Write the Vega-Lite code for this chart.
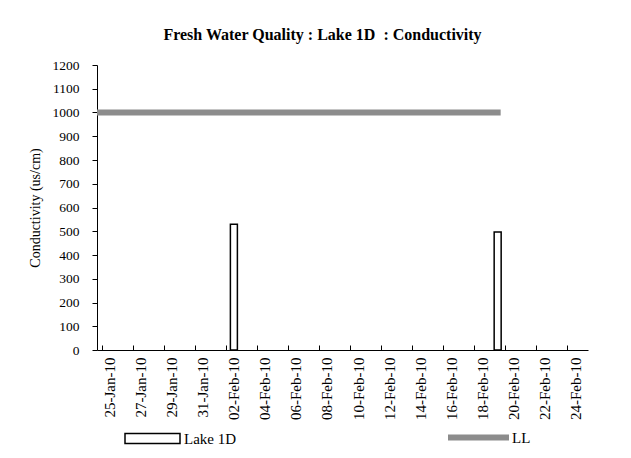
{
  "$schema": "https://vega.github.io/schema/vega-lite/v6.json",
  "width": 491,
  "height": 285,
  "autosize": {"type": "none"},
  "padding": {"left": 97, "top": 65, "right": 43, "bottom": 108},
  "background": "white",
  "title": {
    "text": "Fresh Water Quality : Lake 1D\u00a0 : Conductivity",
    "font": "Liberation Serif",
    "fontSize": 16,
    "fontWeight": "bold",
    "color": "black",
    "anchor": "middle",
    "dx": -20,
    "offset": 15
  },
  "config": {
    "view": {"stroke": null},
    "font": "Liberation Serif",
    "axis": {
      "grid": false,
      "domainColor": "black",
      "tickColor": "black",
      "labelColor": "black",
      "titleColor": "black",
      "labelFont": "Liberation Serif",
      "titleFont": "Liberation Serif",
      "labelFontSize": 13.5,
      "titleFontSize": 14,
      "titleFontWeight": "normal",
      "labelOverlap": false
    },
    "legend": {
      "labelFont": "Liberation Serif",
      "labelFontSize": 15,
      "labelColor": "black"
    }
  },
  "datasets": {
    "lake": [
      {"date": "2010-02-02", "series": "Lake 1D", "value": 530},
      {"date": "2010-02-19", "series": "Lake 1D", "value": 497}
    ],
    "ll": [
      {"date": "2010-01-24", "series": "LL", "value": 1000},
      {"date": "2010-02-19", "series": "LL", "value": 1000}
    ]
  },
  "layer": [
    {
      "data": {"name": "lake"},
      "mark": {"type": "bar", "size": 7, "stroke": "black", "strokeWidth": 1.5},
      "encoding": {
        "x": {
          "field": "date",
          "type": "temporal",
          "scale": {
            "type": "utc",
            "domain": [
              {"year": 2010, "month": 1, "date": 24, "hours": 12, "utc": true},
              {"year": 2010, "month": 2, "date": 24, "hours": 12, "utc": true}
            ]
          },
          "axis": {
            "title": null,
            "format": "%d-%b-%y",
            "labelAngle": -90,
            "labelFontSize": 15,
            "labelOverlap": false,
            "tickCount": 40,
            "tickSize": -5,
            "tickOffset": -7.919,
            "labelOffset": 7.919,
            "labelPadding": 12,
            "values": [
              {"year": 2010, "month": 1, "date": 25, "utc": true},
              {"year": 2010, "month": 1, "date": 27, "utc": true},
              {"year": 2010, "month": 1, "date": 29, "utc": true},
              {"year": 2010, "month": 1, "date": 31, "utc": true},
              {"year": 2010, "month": 2, "date": 2, "utc": true},
              {"year": 2010, "month": 2, "date": 4, "utc": true},
              {"year": 2010, "month": 2, "date": 6, "utc": true},
              {"year": 2010, "month": 2, "date": 8, "utc": true},
              {"year": 2010, "month": 2, "date": 10, "utc": true},
              {"year": 2010, "month": 2, "date": 12, "utc": true},
              {"year": 2010, "month": 2, "date": 14, "utc": true},
              {"year": 2010, "month": 2, "date": 16, "utc": true},
              {"year": 2010, "month": 2, "date": 18, "utc": true},
              {"year": 2010, "month": 2, "date": 20, "utc": true},
              {"year": 2010, "month": 2, "date": 22, "utc": true},
              {"year": 2010, "month": 2, "date": 24, "utc": true}
            ]
          }
        },
        "y": {
          "field": "value",
          "type": "quantitative",
          "scale": {"domain": [0, 1200]},
          "axis": {
            "title": "Conductivity (us/cm)",
            "format": "d",
            "labelOverlap": false,
            "tickCount": 30,
            "values": [0, 100, 200, 300, 400, 500, 600, 700, 800, 900, 1000, 1100, 1200],
            "tickSize": 5,
            "labelPadding": 13,
            "titlePadding": 10
          }
        },
        "fill": {
          "field": "series",
          "type": "nominal",
          "scale": {"range": ["white"]},
          "legend": {
            "title": null,
            "orient": "none",
            "legendX": 27,
            "legendY": 345,
            "padding": 0,
            "symbolType": "M-1,-0.18L1,-0.18L1,0.18L-1,0.18Z",
            "symbolSize": 3025,
            "symbolStrokeColor": "black",
            "symbolStrokeWidth": 1.5,
            "symbolFillColor": "white",
            "labelOffset": 3
          }
        }
      }
    },
    {
      "data": {"name": "ll"},
      "mark": {"type": "line", "strokeWidth": 6, "strokeCap": "square", "clip": true},
      "encoding": {
        "x": {"field": "date", "type": "temporal"},
        "y": {"field": "value", "type": "quantitative"},
        "stroke": {
          "field": "series",
          "type": "nominal",
          "scale": {"range": ["#8c8c8c"]},
          "legend": {
            "title": null,
            "orient": "none",
            "legendX": 348,
            "legendY": 339,
            "padding": 0,
            "symbolType": "stroke",
            "symbolSize": 3721,
            "symbolStrokeWidth": 6,
            "labelOffset": 0
          }
        }
      }
    }
  ]
}
